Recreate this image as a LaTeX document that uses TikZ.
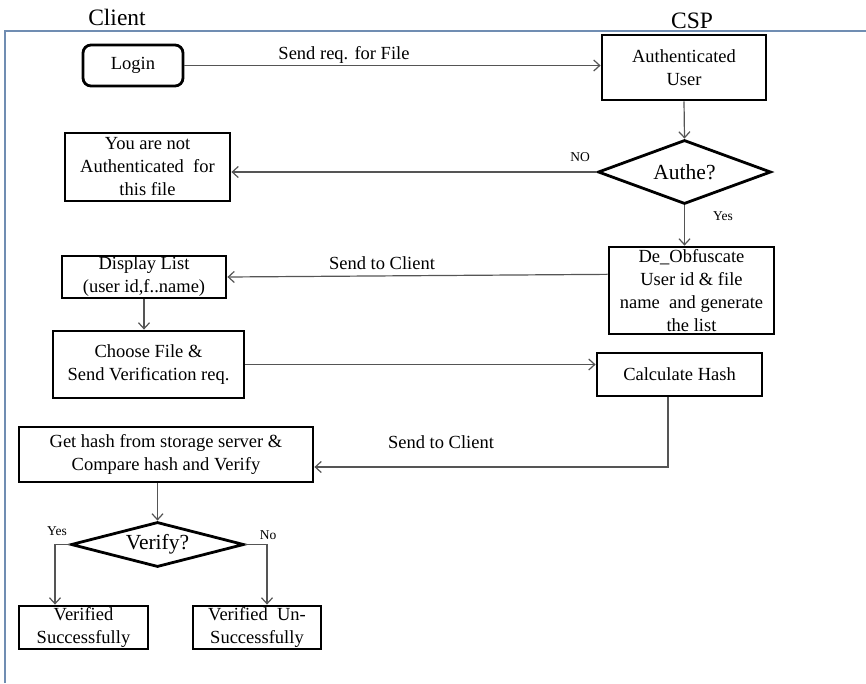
\documentclass[tikz,border=0pt]{standalone}
\usepackage{fontspec}
\setmainfont{Liberation Serif}
\usetikzlibrary{shapes.geometric,arrows.meta,calc}
\definecolor{framecol}{RGB}{112,141,178}
\definecolor{conncol}{RGB}{85,85,85}
\begin{document}
\begin{tikzpicture}[x=1pt,y=-1pt,
  box/.style={draw=black, line width=2.8pt, rectangle, inner sep=0pt, align=center,
    font=\fontsize{18.5}{23}\selectfont},
  dec/.style={draw=black, line width=2.8pt, diamond, inner sep=0pt, aspect=2.7,
    font=\fontsize{21.5}{25}\selectfont},
  conn/.style={draw=conncol, line width=1.2pt, -{Straight Barb[length=6pt,width=11pt]}},
  lbl/.style={font=\fontsize{18.5}{23}\selectfont, inner sep=0pt},
  small/.style={font=\fontsize{13.5}{15}\selectfont, inner sep=0pt},
  head/.style={font=\fontsize{23.5}{26}\selectfont, inner sep=0pt}]
\useasboundingbox (0,0) rectangle (866,683);
% frame
\draw[framecol, line width=2.4pt] (5,683) -- (5,31) -- (866,31);
\node[head] (client) at (117,17) {Client};
\node[head] (csp) at (692,21) {CSP};
% nodes
\node[box, rounded corners=8pt, minimum width=100pt, minimum height=41pt] (login) at (133,65.5) {Login};
\node[box, minimum width=164pt, minimum height=65pt] (auth) at (684,67.5) {Authenticated\\User};
\node[dec, minimum width=173pt, minimum height=64pt] (authe) at (684.5,172) {Authe?};
\node[box, minimum width=165pt, minimum height=68pt] (notauth) at (147.5,167) {You are not\\Authenticated\ \ for\\this file};
\node[box, minimum width=165pt, minimum height=87pt] (deobf) at (691.5,290.5) {De\_Obfuscate\\User id \& file\\name\ \ and generate\\the list};
\node[box, minimum width=164pt, minimum height=42pt] (disp) at (144,277) {Display List\\(user id,f..name)};
\node[box, minimum width=191pt, minimum height=67pt] (choose) at (148.5,364.5) {Choose File \&\\Send Verification req.};
\node[box, minimum width=165pt, minimum height=43pt] (calc) at (679.5,374.5) {Calculate Hash};
\node[box, minimum width=294pt, minimum height=55pt] (gethash) at (166,454.5) {Get hash from storage server \&\\Compare hash and Verify};
\node[dec, minimum width=173pt, minimum height=45pt] (verify) at (157.5,544.5) {Verify?};
\node[box, minimum width=129pt, minimum height=43pt] (vs) at (83.5,627.5) {Verified\\Successfully};
\node[box, minimum width=128pt, minimum height=43pt] (vu) at (257,627.5) {Verified\ \ Un-\\Successfully};
% connectors
\draw[conn] (login.east) -- (login.east -| auth.west);
\node[lbl] (l1) at (344,55) {Send req. for File};
\draw[conn] (auth.south) -- (authe.north);
\draw[conn] (authe.west) -- (authe.west -| notauth.east);
\node[small] (lno) at (580,157) {NO};
\draw[conn] (authe.south) -- (authe.south |- deobf.north);
\node[small] (lyes) at (723,216) {Yes};
\coordinate (dl) at ($(deobf.north west)!0.32!(deobf.south west)$);
\draw[conn] (dl) -- (disp.east);
\node[lbl] (l2) at (382,263) {Send to Client};
\draw[conn] (disp.south) -- (disp.south |- choose.north);
\draw[conn] (choose.east) -- (choose.east -| calc.west);
\coordinate (cs) at ([xshift=-11.5pt]calc.south);
\coordinate (cc) at (cs |- 0,467);
\draw[conn] (cs) -- (cc) -- (cc -| gethash.east);
\node[lbl] (l3) at (441,442) {Send to Client};
\draw[conn] (verify.north |- gethash.south) -- (verify.north);
\coordinate (yl) at (55,544.5);
\draw[conn] (verify.west) -- (yl) -- (yl |- vs.north);
\node[small] (lyes2) at (57,531) {Yes};
\coordinate (nl) at (267,544.5);
\draw[conn] (verify.east) -- (nl) -- (nl |- vu.north);
\node[small] (lno2) at (268,535) {No};
\end{tikzpicture}
\end{document}
